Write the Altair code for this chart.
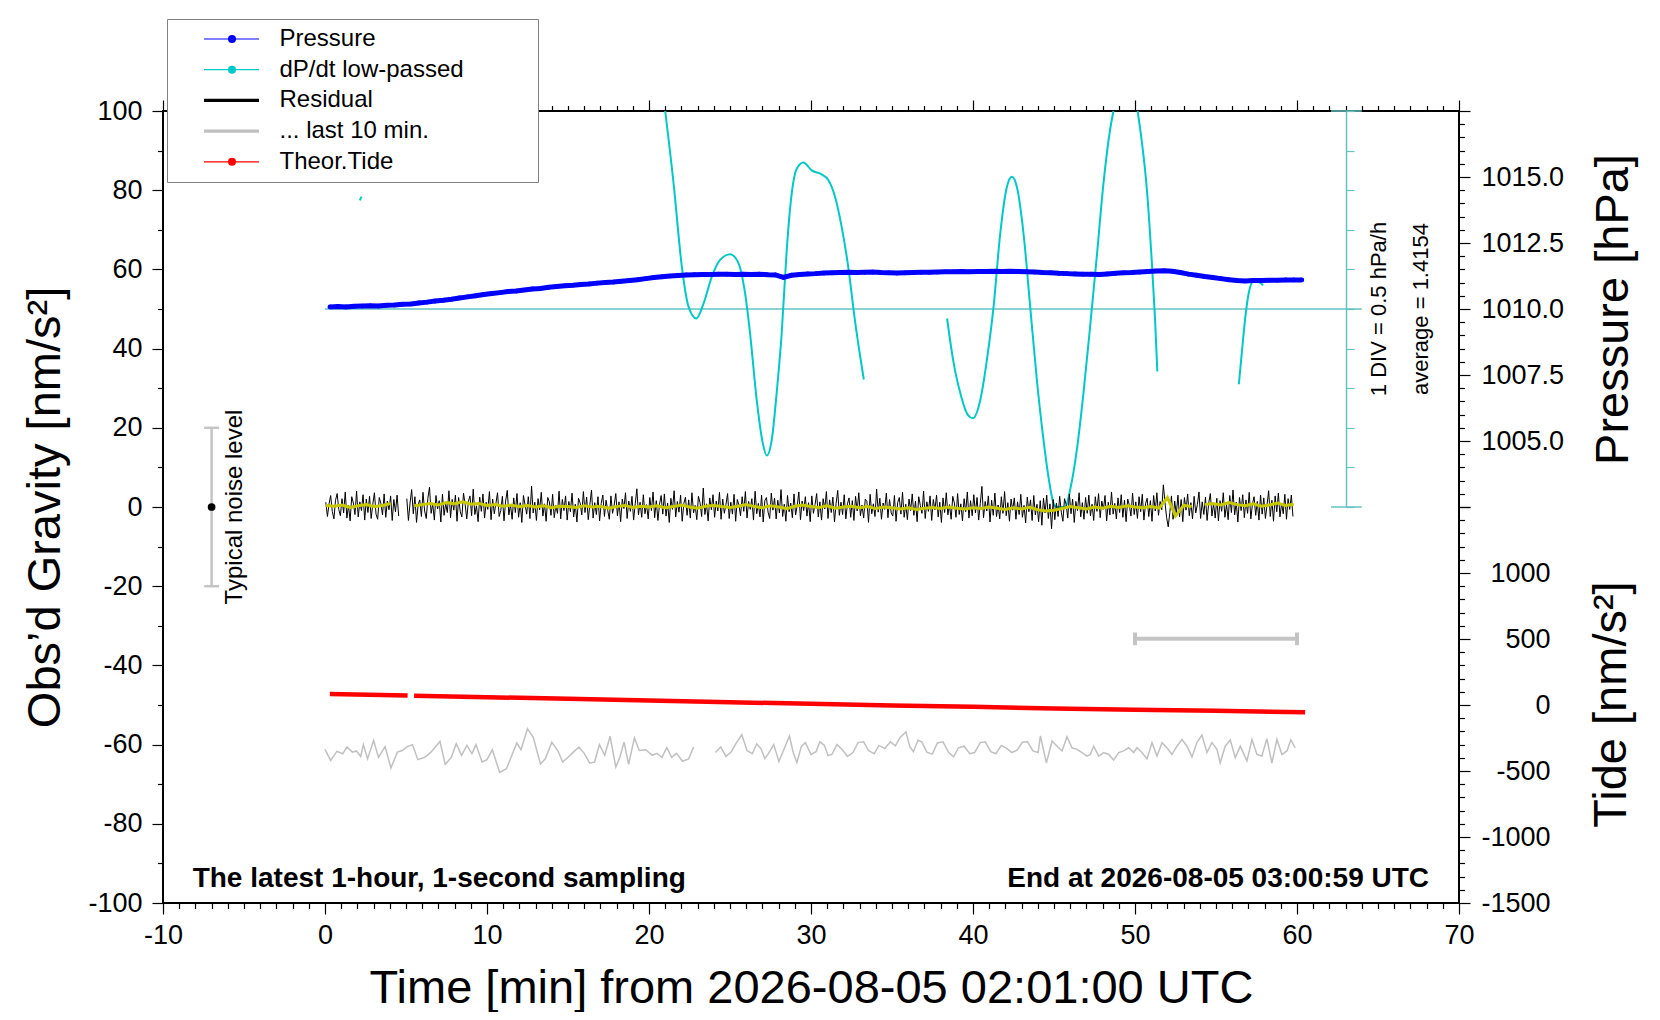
import altair as alt
import pandas as pd

FONT = "Liberation Sans"
W, H = 1296, 792

# ---------------- values ----------------
LEGEND_NAMES = ["Pressure", "dP/dt low-passed", "Residual", "... last 10 min.", "Theor.Tide"]
LINE_COLORS = ["#0000ff", "#00c8c8", "#000000", "#c0c0c0", "#ff0000"]
DOT_COLORS = ["#0000ff", "#00c8c8", "transparent", "transparent", "#ff0000"]
DOT_KEYS = ["dot-" + name for name in LEGEND_NAMES]

# air pressure [hPa], one value every 0.5 min starting at 0.3 min
P_T0, P_STEP = 0.3, 0.5
PRESSURE = [
    1010.08, 1010.09, 1010.08, 1010.10, 1010.11, 1010.12, 1010.11, 1010.14, 1010.15, 1010.18,
    1010.19, 1010.23, 1010.26, 1010.30, 1010.33, 1010.37, 1010.42, 1010.46, 1010.50, 1010.55,
    1010.59, 1010.62, 1010.66, 1010.68, 1010.72, 1010.76, 1010.78, 1010.82, 1010.85, 1010.88,
    1010.90, 1010.93, 1010.95, 1010.98, 1011.00, 1011.02, 1011.05, 1011.08, 1011.11, 1011.15,
    1011.19, 1011.22, 1011.25, 1011.27, 1011.29, 1011.30, 1011.31, 1011.31, 1011.32, 1011.32,
    1011.31, 1011.32, 1011.31, 1011.32, 1011.30, 1011.29, 1011.20, 1011.28, 1011.31, 1011.33,
    1011.34, 1011.36, 1011.37, 1011.38, 1011.39, 1011.38, 1011.39, 1011.40, 1011.38, 1011.37,
    1011.36, 1011.37, 1011.38, 1011.39, 1011.39, 1011.40, 1011.41, 1011.41, 1011.42, 1011.41,
    1011.42, 1011.42, 1011.43, 1011.42, 1011.43, 1011.42, 1011.41, 1011.40, 1011.38, 1011.37,
    1011.35, 1011.34, 1011.33, 1011.32, 1011.32, 1011.31, 1011.33, 1011.35, 1011.37, 1011.38,
    1011.40, 1011.42, 1011.44, 1011.45, 1011.43, 1011.38, 1011.32, 1011.28, 1011.23, 1011.19,
    1011.15, 1011.11, 1011.08, 1011.06, 1011.08, 1011.08, 1011.09, 1011.09, 1011.10, 1011.10,
    1011.10,
]

# dP/dt low-passed, deviation from the average [hPa/h], drawn in pieces
DPDT_T1 = [2.15, 2.25]
DPDT_V1 = [1.37, 1.42]
DPDT_T2 = [21.0, 21.52, 22.03, 22.44, 22.92, 23.37, 23.88, 24.39, 25.01, 25.52, 25.93, 26.24,
           26.65, 27.02, 27.27, 27.58, 27.88, 28.19, 28.5, 28.81, 29.12, 29.53, 30.04, 30.66,
           31.07, 31.48, 31.89, 32.3, 32.71, 33.26]
DPDT_V2 = [2.5, 1.58, 0.53, 0.03, -0.12, 0.07, 0.41, 0.62, 0.69, 0.58, 0.2, -0.31,
           -1.15, -1.69, -1.85, -1.65, -1.06, -0.31, 0.74, 1.46, 1.77, 1.85, 1.75, 1.7,
           1.63, 1.42, 1.04, 0.53, -0.14, -0.89]
DPDT_T3 = [38.4, 38.77, 39.28, 39.69, 40.0, 40.45, 40.86, 41.27, 41.68, 42.09, 42.4, 42.71,
           43.12, 43.53, 43.94, 44.35, 44.72, 45.0, 45.17, 45.69, 46.0, 46.41, 46.82, 47.23,
           47.64, 48.05, 48.46, 48.67]
DPDT_V3 = [-0.12, -0.64, -1.11, -1.34, -1.38, -1.15, -0.64, 0.03, 0.95, 1.54, 1.67, 1.54,
           0.95, 0.03, -0.89, -1.65, -2.2, -2.47, -2.5, -2.5, -2.28, -1.78, -1.06, -0.22,
           0.66, 1.58, 2.26, 2.5]
DPDT_T4 = [50.16, 50.41, 50.72, 51.03, 51.23, 51.38]
DPDT_V4 = [2.5, 2.13, 1.54, 0.62, -0.1, -0.79]
DPDT_T5 = [56.41, 56.63, 56.84, 57.04, 57.29, 57.6, 57.91]
DPDT_V5 = [-0.95, -0.47, -0.05, 0.22, 0.34, 0.34, 0.30]

# residual gravity [nm/s^2], one value every 0.1 min, two pieces
RES_STEP = 0.1
RES_A_T0 = 0.05
RES_A = [
    1.2, -2.4, 0.8, 2.9, -1.1, -3.0, 1.7, 3.4, -0.6, -2.2, 2.1, -1.5, 3.8, -2.8, 0.4, -3.5, 2.6, 1.0, -1.9, 4.0,
    -2.5, 1.3, -0.9, 3.1, -3.3, 2.0, -1.4, 2.7, -2.9, 0.7, 3.6, -1.8, -3.1, 2.4, 0.9, -2.0, 3.3, -2.6, 1.5, -0.7,
    2.8, -3.4, 1.9, -1.2, 3.0, -2.3,
]
RES_B_T0 = 5.05
RES_B = [
    2.1, -3.4, 1.0, 4.4, -1.7, 2.6, -3.9, 0.6, 1.8, -2.4, 3.7, -1.0, -2.9, 2.2, 5.0, -1.6, 0.8, -3.3, 2.9, -0.5, 1.6, -3.8, 3.2, -2.1, 0.9,
    -1.4, 4.1, -2.7, 1.9, -0.8, 3.0, -3.6, 2.4, -1.2, -2.5, 3.5, 0.7, -3.0, 1.4, 2.8, -2.2, 4.5, -1.9, 0.3, -3.7, 2.5, -1.1, 3.3, -2.8, 1.2,
    -0.6, 3.9, -3.2, 2.0, -1.7, 0.9, 3.6, -2.4, -0.9, 2.7, -3.5, 1.5, 4.2, -2.0, 0.6, -3.1, 2.3, -1.4, 3.4, -2.6, 1.1, -3.9, 2.9, 0.5, -1.8,
    2.6, -2.9, 5.3, -1.5, 1.2, -3.4, 2.1, -0.7, 3.7, -2.3, 0.8, -3.6, 2.4, 1.3, -2.1, 3.2, -2.7, 0.4, -1.6, 4.0, -3.0, 1.9, -0.9, 2.8, -3.3,
    1.4, -1.2, 3.5, -2.5, 0.7, -3.8, 2.2, 1.0, -2.0, 3.9, -1.4, 2.5, -3.2, 0.6, 4.3, -2.8, 1.1, -1.9, 2.6, -3.5, 0.9, 3.0, -2.4, 1.7, -0.8,
    -3.1, 2.8, -1.6, 0.5, 3.4, -2.2, 1.3, -3.7, 2.0, -0.4, 3.6, -2.9, 1.5, -1.1, 2.7, -3.3, 0.8, 4.6, -2.0, 1.2, -2.6, 3.1, -1.7, 0.6, -3.0,
    2.4, -0.9, 3.8, -2.7, 1.6, -3.4, 0.7, 2.9, -1.8, 3.3, -2.3, 1.0, -3.9, 2.2, -0.6, 4.1, -2.5, 1.4, -1.3, 3.0, -3.6, 0.9, 2.5, -2.1, 1.8,
    -2.8, 3.6, -1.5, 0.4, -3.2, 2.7, 1.1, -2.4, 4.8, -1.9, 0.8, -3.5, 2.3, -0.7, 3.1, -2.6, 1.5, -1.0, 3.7, -3.1, 2.0, -1.6, 0.6, 3.4, -2.9,
    1.2, -1.8, 3.2, -3.6, 1.9, 0.5, -2.2, 2.6, -1.1, 3.9, -2.8, 1.4, -0.6, 2.1, -3.3, 4.0, -1.7, 0.9, -2.5, 3.0, -3.8, 1.6, 2.4, -1.3, -2.9,
    3.5, -0.8, 2.2, -3.0, 1.7, -1.5, 4.4, -2.4, 0.7, -3.6, 2.9, -1.2, 1.0, -2.7, 3.3, -2.0, 0.4, 3.8, -3.2, 1.5, -0.9, 2.6, -2.3, 1.1, -3.7,
    2.8, -1.6, 0.6, 3.4, -2.5, 1.3, -3.3, 2.1, -0.5, 3.9, -2.9, 1.8, -1.4, 2.5, -3.8, 0.9, 4.2, -2.1, 1.2, -1.9, 3.1, -3.0, 0.8, 2.3, -2.6,
    1.6, -3.4, 2.7, -1.0, 3.6, -2.2, 0.5, -2.8, 2.0, 1.4, -3.9, 3.2, -1.7, 0.8, -2.4, 4.5, -1.3, 2.2, -3.1, 1.0, -0.6, 3.5, -2.7, 1.9, -1.5,
    -2.3, 2.9, -3.6, 1.1, 2.4, -1.8, 3.7, -2.6, 0.7, -3.2, 2.0, -0.9, 3.3, -2.1, 1.5, -3.7, 2.6, 0.4, -1.6, 4.0, -2.9, 1.3, -1.1, 2.8, -3.4,
    1.9, -0.7, 3.0, -2.5, 1.2, -3.9, 2.3, -1.4, 3.6, -2.0, 0.6, -3.1, 2.7, 1.0, -2.6, 3.4, -1.9, 0.8, -3.5, 2.1, -1.2, 3.8, -2.8, 1.6, -2.2,
    3.1, -1.5, 2.4, -3.3, 0.9, 5.2, -2.7, 1.4, -1.0, 2.8, -3.8, 1.7, -2.1, 3.5, -2.4, 0.5, -3.0, 2.6, -1.6, 3.9, -2.2, 1.1, -3.6, 2.0, -0.8,
    2.3, -3.1, 1.3, -1.9, 3.2, -2.6, 0.4, -4.0, 2.5, -1.2, 1.8, -3.4, 2.9, -2.0, 0.7, -3.7, 1.6, -4.6, 2.2, -1.5, 3.0, -2.9, 0.8, -5.5, 1.9,
    -3.2, 1.0, -2.4, 2.7, -1.3, -3.6, 2.1, 0.6, -2.8, 3.3, -1.7, 2.0, -3.9, 1.4, -0.9, 3.6, -2.5, 1.1, -3.1, 2.4, -1.6, 3.0, -2.2, 0.7, -3.4,
    2.6, -1.1, 3.4, -2.7, 1.5, -0.6, 2.9, -3.5, 1.2, -2.0, 3.8, -1.8, 0.9, -3.0, 2.3, -1.4, 3.1, -2.6, 1.7, -3.7, 2.0, 0.5, -2.3, 3.5, -1.9,
    1.3, -2.9, 2.6, -1.2, 3.2, -3.3, 0.8, 2.2, -2.4, 1.6, -3.6, 2.9, -1.0, 3.6, -2.1, 1.4, -0.7, 5.6, 1.2, -2.6, -5.0, -1.4, 2.8, -3.1, 1.5,
    -1.8, 3.0, -2.5, 1.9, -3.7, 2.4, -0.8, 3.3, -2.2, 1.1, -3.0, 2.7, -1.5, 0.6, 3.8, -2.9, 1.3, -1.9, 2.5, -3.4, 1.0, 3.4, -2.3, 0.9, -2.8,
    2.2, -3.5, 1.6, -1.1, 3.6, -2.6, 0.7, -3.2, 2.9, -1.4, 4.3, -2.0, 1.2, -3.8, 2.4, -0.9, 3.1, -2.7, 1.8, -1.6, 3.7, -3.0, 0.8, 2.6, -2.1,
    1.4, -3.3, 3.0, -1.8, 2.3, -2.9, 0.5, 4.1, -2.4, 1.7, -3.6, 2.8, -1.2, 3.5, -2.5, 1.0, -1.7, 3.2, -3.1, 2.1, -0.6, 3.0, -2.4,
]

# smoothed residual (yellow), one value every 0.5 min, three pieces
YEL_STEP = 0.5
YEL_A_T0 = 0.05
YEL_A = [0.4, 0.2, 0.5, -0.1, 0.3, 0.6, 0.1, 0.4, 0.9]
YEL_B_T0 = 5.5
YEL_B = [
    0.3, 0.6, 0.9, 0.5, 1.1, 0.8, 1.3, 0.7, 0.9, 0.4,
    0.6, 0.2, 0.5, 0.1, 0.4, 0.0, 0.3, -0.2, 0.2, 0.1,
    -0.1, 0.3, 0.0, 0.2, -0.3, 0.1, 0.4, -0.1, 0.2, 0.0,
    0.3, -0.2, 0.1, 0.5, 0.0, -0.3, 0.2, 0.4, 0.1, -0.1,
    0.2, 0.6, 0.1, -0.2, 0.3, 0.0, -0.4, 0.2, 0.5, 0.1,
    -0.1, 0.3, -0.3, 0.0, 0.2, -0.2, 0.1, -0.4, 0.0, -0.2,
    -0.5, -0.2, -0.6, -0.3, -0.1, -0.4, 0.0, -0.3, -0.5, -0.2,
    -0.4, 0.0, -0.3, -0.6, -0.2, -0.5, -0.1, -0.7, -1.0, -0.8,
    -0.4, 0.1, -0.2, -0.5, 0.0, -0.3, 0.2, -0.1, 0.3, 0.0,
    -0.2, 0.1, -0.3, 2.4, -2.3, 0.4, 0.1,
]
YEL_C_T0 = 54.3
YEL_C = [0.6, 0.9, 0.5, 1.1, 0.6, 0.3, 0.8, 0.2, 0.5, 1.0, 0.4, 0.7]

# "... last 10 min." trace (grey), in gravity units
GREY_T_A = [0.0, 0.35, 0.73, 1.1, 1.36, 1.69, 1.94, 2.2, 2.37, 2.63, 3.0, 3.3, 3.71, 4.07, 4.47,
            4.77, 5.08, 5.4, 5.73, 6.16, 6.54, 7.1, 7.42, 7.8, 8.1, 8.43, 8.76, 9.07, 9.32, 9.7,
            10.0, 10.33, 10.78, 11.2, 11.84, 12.1, 12.5, 12.85, 13.3, 13.6, 14.0, 14.37, 14.67,
            15.0, 15.33, 15.68, 16.0, 16.34, 16.64, 16.94, 17.27, 17.6, 17.95, 18.2, 18.46, 18.74,
            19.1, 19.4, 19.8, 20.2, 20.5, 20.8, 21.1, 21.4, 21.7, 22.07, 22.45, 22.75]
GREY_G_A = [-61.2, -64.0, -61.7, -62.3, -60.6, -61.9, -61.6, -63.0, -60.0, -63.6, -59.0, -63.2,
            -60.5, -65.9, -61.9, -61.5, -60.5, -60.0, -63.8, -63.2, -61.9, -59.2, -65.0, -63.2,
            -59.8, -62.7, -60.2, -62.3, -60.0, -64.4, -63.8, -61.3, -67.0, -66.1, -59.6, -61.3,
            -56.0, -58.1, -64.9, -63.6, -59.4, -61.5, -64.4, -63.2, -61.9, -60.6, -62.2, -64.7,
            -64.4, -60.0, -62.7, -57.9, -65.7, -63.2, -59.4, -65.0, -58.3, -61.5, -61.3, -62.7,
            -62.2, -63.2, -60.8, -63.2, -62.2, -64.2, -63.6, -60.6]
GREY_T_B = [24.1, 24.43, 24.75, 25.08, 25.4, 25.73, 26.05, 26.38, 26.65, 26.91, 27.15, 27.37,
            27.7, 28.02, 28.35, 28.67, 28.9, 29.13, 29.4, 29.65, 30.0, 30.31, 30.55, 30.83,
            31.05, 31.29, 31.6, 31.94, 32.25, 32.59, 32.9, 33.25, 33.55, 33.9, 34.2, 34.55,
            34.9, 35.21, 35.5, 35.86, 36.1, 36.32, 36.6, 36.84, 37.15, 37.49, 37.8, 38.15,
            38.5, 38.8, 39.1, 39.45, 39.8, 40.1, 40.45, 40.76, 41.1, 41.41, 41.75, 42.06,
            42.4, 42.72, 43.05, 43.37, 43.7, 44.02,
            44.16, 44.53, 44.88, 45.19, 45.5, 45.8, 46.11, 46.42, 46.73, 47.04, 47.24, 47.45,
            47.76, 48.07, 48.38, 48.68, 48.99, 49.3, 49.61, 49.92, 50.12, 50.43, 50.74, 51.05,
            51.36, 51.67, 51.97, 52.28, 52.59, 52.9, 53.21, 53.52, 53.82, 54.13, 54.44, 54.75,
            55.06, 55.26, 55.57, 55.88, 56.19, 56.5, 56.91, 57.22, 57.53, 57.83, 58.14, 58.45,
            58.76, 59.07, 59.38, 59.62, 59.89]
GREY_G_B = [-62.0, -60.6, -63.0, -61.8, -59.5, -57.5, -61.5, -62.3, -59.8, -61.0, -63.5, -62.3,
            -60.0, -64.3, -61.0, -57.8, -62.0, -64.5, -60.5, -59.5, -62.5, -61.8, -59.3, -60.2,
            -62.8, -62.5, -60.0, -61.3, -63.0, -62.0, -59.5, -59.3, -61.5, -62.3, -60.2, -61.0,
            -59.3, -60.3, -58.2, -56.8, -60.5, -61.8, -58.9, -59.3, -61.9, -62.4, -59.6, -59.3,
            -62.0, -63.1, -60.8, -60.4, -62.3, -62.0, -59.5, -59.3, -61.8, -62.3, -60.2, -60.9,
            -62.0, -61.4, -59.4, -59.3, -61.6, -62.0,
            -57.8, -64.6, -59.1, -60.4, -61.6, -58.0, -60.8, -61.2, -62.0, -62.9, -62.5, -60.4,
            -62.9, -62.0, -62.5, -63.9, -62.0, -61.6, -60.8, -62.0, -60.8, -62.0, -63.6, -59.5,
            -62.9, -59.5, -60.8, -62.5, -60.4, -58.7, -60.4, -63.1, -59.5, -57.6, -62.0, -59.5,
            -61.2, -64.6, -60.4, -58.8, -63.3, -60.4, -64.1, -58.7, -62.5, -62.9, -58.5, -64.7,
            -58.7, -62.5, -61.6, -58.8, -60.8]

# theoretical tide [nm/s^2]
TIDE_T_A = [0.3, 5.1]
TIDE_V_A = [84, 72]
TIDE_T_B = [5.5, 10, 15, 20, 25, 30, 35, 40, 45, 50, 55, 60.5]
TIDE_V_B = [71, 59, 47, 34, 21, 9, -3, -14, -26, -36, -44, -55]

# ---------------- tables ----------------
def times(t0, step, vals):
    return [round(t0 + i * step, 3) for i in range(len(vals))]


press_df = pd.DataFrame({"t": times(P_T0, P_STEP, PRESSURE), "p": PRESSURE})
press_df["series"] = "Pressure"
press_df["dot"] = "dot-Pressure"

dpdt_parts = [(DPDT_T1, DPDT_V1), (DPDT_T2, DPDT_V2), (DPDT_T3, DPDT_V3),
              (DPDT_T4, DPDT_V4), (DPDT_T5, DPDT_V5)]
dpdt_df = pd.concat(
    [pd.DataFrame({"t": t, "v": v, "seg": k}) for k, (t, v) in enumerate(dpdt_parts)]
)
dpdt_df["series"] = "dP/dt low-passed"

resid_df = pd.DataFrame({
    "t": times(RES_A_T0, RES_STEP, RES_A) + times(RES_B_T0, RES_STEP, RES_B),
    "g": RES_A + RES_B,
    "seg": ["a"] * len(RES_A) + ["b"] * len(RES_B),
})
resid_df["series"] = "Residual"

yel_df = pd.DataFrame({
    "t": times(YEL_A_T0, YEL_STEP, YEL_A) + times(YEL_B_T0, YEL_STEP, YEL_B)
    + times(YEL_C_T0, YEL_STEP, YEL_C),
    "g": YEL_A + YEL_B + YEL_C,
    "seg": ["a"] * len(YEL_A) + ["b"] * len(YEL_B) + ["c"] * len(YEL_C),
})

grey_df = pd.DataFrame({
    "t": GREY_T_A + GREY_T_B,
    "g": GREY_G_A + GREY_G_B,
    "seg": ["a"] * len(GREY_T_A) + ["b"] * len(GREY_T_B),
})
grey_df["series"] = "... last 10 min."

tide_df = pd.DataFrame({
    "t": TIDE_T_A + TIDE_T_B,
    "v": TIDE_V_A + TIDE_V_B,
    "seg": ["a"] * len(TIDE_T_A) + ["b"] * len(TIDE_T_B),
})
tide_df["series"] = "Theor.Tide"

# ---------------- scales, axes, legends ----------------
XS = alt.Scale(domain=[-10, 70], nice=False, zero=False)
GS = alt.Scale(domain=[-100, 100], nice=False, zero=False)
PS = alt.Scale(domain=[1002.5, 1017.5], range=[H / 2, 0], nice=False, zero=False)
TS = alt.Scale(domain=[-1500, 1500], range=[H, H / 2], nice=False, zero=False)
DS = alt.Scale(domain=[-2.5, 2.5], range=[H / 2, 0], nice=False, zero=False)

CYAN_AX = "#66c2c2"
YELLOW = "#c8c800"
LIGHT = "#c4c4c4"


def tick_size(test, major, minor):
    return {"condition": {"test": test, "value": major}, "value": minor}


SIGNED = "(datum.value < 0 ? '-' : '') + abs(datum.value)"
X_TICKS = list(range(-10, 71))

AX_BOTTOM = alt.Axis(
    orient="bottom", values=X_TICKS,
    labelExpr=f"datum.value % 10 == 0 ? {SIGNED} : ''",
    tickSize=tick_size("datum.value % 10 == 0", 11, 5.5),
    labelPadding=8, labelFlush=False, labelOverlap=False,
    title="Time [min] from 2026-08-05 02:01:00 UTC",
    titleX=W / 2, titleY=99, titleAlign="center", titleBaseline="alphabetic",
)
AX_TOP = alt.Axis(
    orient="top", values=X_TICKS, labels=False,
    tickSize=tick_size("datum.value % 10 == 0", 11, 5.5), title=None,
)
AX_LEFT = alt.Axis(
    orient="left", values=list(range(-100, 101, 10)),
    labelExpr=f"datum.value % 20 == 0 ? {SIGNED} : ''",
    tickSize=tick_size("datum.value % 20 == 0", 11, 5.5),
    labelPadding=10, labelFlush=False, labelOverlap=False,
    title="Obs\u2019d Gravity [nm/s\u00b2]", titleAngle=270,
    titleX=-118, titleY=H / 2, titleAlign="center", titleBaseline="middle",
)
AX_PRESS = alt.Axis(
    orient="right", values=[1002.5 + 0.5 * k for k in range(31)],
    labelExpr="indexof([1005, 1007.5, 1010, 1012.5, 1015], datum.value) >= 0 ? format(datum.value, '.1f') : ''",
    tickSize=tick_size("datum.value % 2.5 == 0", 11, 5.5),
    labelPadding=11, labelFlush=False, labelOverlap=False,
    title="Pressure [hPa]", titleAngle=270,
    titleX=154, titleY=H / 4, titleAlign="center", titleBaseline="middle",
)
AX_TIDE = alt.Axis(
    orient="right", values=list(range(-1500, 1501, 100)),
    labelExpr=f"datum.value % 500 == 0 && datum.value <= 1000 ? {SIGNED} : ''",
    tickSize=tick_size("datum.value % 500 == 0", 11, 5.5),
    labelAlign="right", labelPadding=80, labelFlush=False, labelOverlap=False,
    title="Tide [nm/s\u00b2]", titleAngle=270,
    titleX=152, titleY=593, titleAlign="center", titleBaseline="middle",
)
AX_DPDT = alt.Axis(
    orient="right", offset=-113, values=[-2.5 + 0.5 * k for k in range(11)],
    labels=False, tickSize=8, tickColor=CYAN_AX, tickWidth=1.2,
    domain=True, domainColor=CYAN_AX, domainWidth=1.5, title=None,
)

# line legend: drawn first, carries the white box; its labels are empty and
# sit at the right edge so the box gets the width of the original one
LEG_LINES = alt.Legend(
    orient="none", legendX=4, legendY=-92, title=None,
    symbolType="stroke", symbolSize=3025,
    symbolStrokeWidth=alt.ExprRef(
        "isValid(datum) && indexof(['Residual', '... last 10 min.'], datum.value) >= 0 ? 3.2 : 1.2"
    ),
    labelFont=FONT, labelFontSize=24, labelColor="transparent", labelLimit=500,
    labelExpr="''",
    padding=8, symbolOffset=44.5, labelOffset=286.5, clipHeight=24, rowPadding=6.7,
    fillColor="white", strokeColor="#808080",
)
# dot legend: drawn on top, carries the dots and the visible labels
LEG_DOTS = alt.Legend(
    orient="none", legendX=49, legendY=-92, title=None,
    symbolType="circle", symbolSize=64, symbolStrokeWidth=0,
    labelFont=FONT, labelFontSize=24, labelColor="black", labelLimit=500,
    labelExpr="slice(datum.label, 4)",
    padding=8, symbolOffset=0, labelOffset=35.5, clipHeight=24, rowPadding=6.7,
)
STROKE = alt.Stroke("series:N", scale=alt.Scale(domain=LEGEND_NAMES, range=LINE_COLORS),
                    legend=LEG_LINES)
FILL = alt.Fill("dot:N", scale=alt.Scale(domain=DOT_KEYS, range=DOT_COLORS),
                legend=LEG_DOTS)

# ---------------- dP/dt group ----------------
dx = alt.X("t:Q", scale=XS, axis=None)
dy = alt.Y("v:Q", scale=DS, axis=AX_DPDT)
dpdt_line = alt.Chart(dpdt_df).mark_line(strokeWidth=2, interpolate="monotone").encode(
    x=dx, y=dy, detail="seg:N", stroke=STROKE
)
dpdt_zero = alt.Chart(pd.DataFrame({"t": [0], "t2": [64], "v": [0]})).mark_rule(
    color=CYAN_AX, strokeWidth=1.5
).encode(x=dx, x2="t2:Q", y=dy)
dpdt_caps = alt.Chart(pd.DataFrame({"t": [62.1, 62.1], "t2": [64, 64], "v": [2.5, -2.5]})).mark_rule(
    color=CYAN_AX, strokeWidth=1.5
).encode(x=dx, x2="t2:Q", y=dy)
dpdt_text = alt.Chart(pd.DataFrame({
    "t": [65.06, 67.65], "v": [0, 0],
    "label": ["1 DIV = 0.5 hPa/h", "average = 1.4154"],
})).mark_text(angle=270, align="center", baseline="middle", fontSize=22, font=FONT,
              color="black").encode(x=dx, y=dy, text="label:N")
dpdt_group = alt.layer(dpdt_zero, dpdt_caps, dpdt_line, dpdt_text)

# ---------------- pressure group ----------------
px = alt.X("t:Q", scale=XS, axis=AX_TOP)
py = alt.Y("p:Q", scale=PS, axis=AX_PRESS)
press_line = alt.Chart(press_df).mark_line(strokeWidth=5).encode(x=px, y=py, stroke=STROKE)
press_dots = alt.Chart(press_df).mark_circle(size=22, opacity=1).encode(x=px, y=py, fill=FILL)
press_group = alt.layer(press_line, press_dots)

# ---------------- tide group ----------------
tide_group = alt.Chart(tide_df).mark_line(strokeWidth=4.5).encode(
    x=alt.X("t:Q", scale=XS, axis=None),
    y=alt.Y("v:Q", scale=TS, axis=AX_TIDE),
    detail="seg:N", stroke=STROKE,
)

# ---------------- gravity group ----------------
gx = alt.X("t:Q", scale=XS, axis=AX_BOTTOM)
gy = alt.Y("g:Q", scale=GS, axis=AX_LEFT)
resid = alt.Chart(resid_df).mark_line(strokeWidth=1).encode(
    x=gx, y=gy, detail="seg:N", stroke=STROKE
)
yellow = alt.Chart(yel_df).mark_line(color=YELLOW, strokeWidth=3).encode(
    x=gx, y=gy, detail="seg:N"
)
grey = alt.Chart(grey_df).mark_line(strokeWidth=1.5).encode(
    x=gx, y=gy, detail="seg:N", stroke=STROKE
)

NOISE_T, NOISE_LEVEL = -7, 20
CAP = 0.46
noise_bar = alt.Chart(pd.DataFrame({"t": [NOISE_T], "g": [-NOISE_LEVEL], "g2": [NOISE_LEVEL]})).mark_rule(
    color=LIGHT, strokeWidth=2.5
).encode(x=gx, y=gy, y2="g2:Q")
noise_caps = alt.Chart(pd.DataFrame({
    "t": [NOISE_T - CAP] * 2, "t2": [NOISE_T + CAP] * 2, "g": [-NOISE_LEVEL, NOISE_LEVEL]
})).mark_rule(color=LIGHT, strokeWidth=2.5).encode(x=gx, x2="t2:Q", y=gy)
noise_dot = alt.Chart(pd.DataFrame({"t": [NOISE_T], "g": [0]})).mark_circle(
    size=60, color="black", opacity=1
).encode(x=gx, y=gy)
noise_text = alt.Chart(pd.DataFrame({"t": [-5.56], "g": [0], "label": ["Typical noise level"]})).mark_text(
    angle=270, align="center", baseline="middle", fontSize=24, font=FONT, color="black"
).encode(x=gx, y=gy, text="label:N")

LAST_FROM, LAST_TO, LAST_G = 50, 60, -33.3
bracket = alt.Chart(pd.DataFrame({"t": [LAST_FROM], "t2": [LAST_TO], "g": [LAST_G]})).mark_rule(
    color=LIGHT, strokeWidth=4
).encode(x=gx, x2="t2:Q", y=gy)
bracket_ends = alt.Chart(pd.DataFrame({
    "t": [LAST_FROM, LAST_TO], "g": [LAST_G - 1.6] * 2, "g2": [LAST_G + 1.6] * 2
})).mark_rule(color=LIGHT, strokeWidth=4).encode(x=gx, y=gy, y2="g2:Q")

note_left = alt.Chart(pd.DataFrame({"t": [-8.17], "g": [-96],
                                    "label": ["The latest 1-hour, 1-second sampling"]})).mark_text(
    align="left", baseline="alphabetic", fontSize=28, fontWeight="bold", font=FONT, color="black"
).encode(x=gx, y=gy, text="label:N")
note_right = alt.Chart(pd.DataFrame({"t": [68.15], "g": [-96],
                                     "label": ["End at 2026-08-05 03:00:59 UTC"]})).mark_text(
    align="right", baseline="alphabetic", fontSize=28, fontWeight="bold", font=FONT, color="black"
).encode(x=gx, y=gy, text="label:N")

grav_group = alt.layer(
    grey, resid, yellow, noise_bar, noise_caps, noise_dot, noise_text,
    bracket, bracket_ends, note_left, note_right,
)

chart = (
    alt.layer(dpdt_group, press_group, tide_group, grav_group)
    .resolve_scale(x="independent", y="independent")
    .properties(
        width=W, height=H,
        autosize=alt.AutoSizeParams(type="none"),
        padding={"left": 155, "top": 103, "right": 190, "bottom": 109},
        title=alt.TitleParams(
            "SCG_054 gravimeter Onsala Space Observatory, Sweden",
            frame="group", anchor="middle", dx=185, offset=22,
            font=FONT, fontSize=32, fontWeight="bold", color="black",
        ),
    )
    .configure_view(stroke="black", strokeWidth=2)
    .configure_axis(
        labelFont=FONT, labelFontSize=27, labelColor="black",
        titleFont=FONT, titleFontSize=47, titleFontWeight="normal", titleColor="black",
        tickColor="black", tickWidth=1.2, domain=False, grid=False,
    )
)

chart.save("out.html", embed_options={"renderer": "svg", "actions": False})
